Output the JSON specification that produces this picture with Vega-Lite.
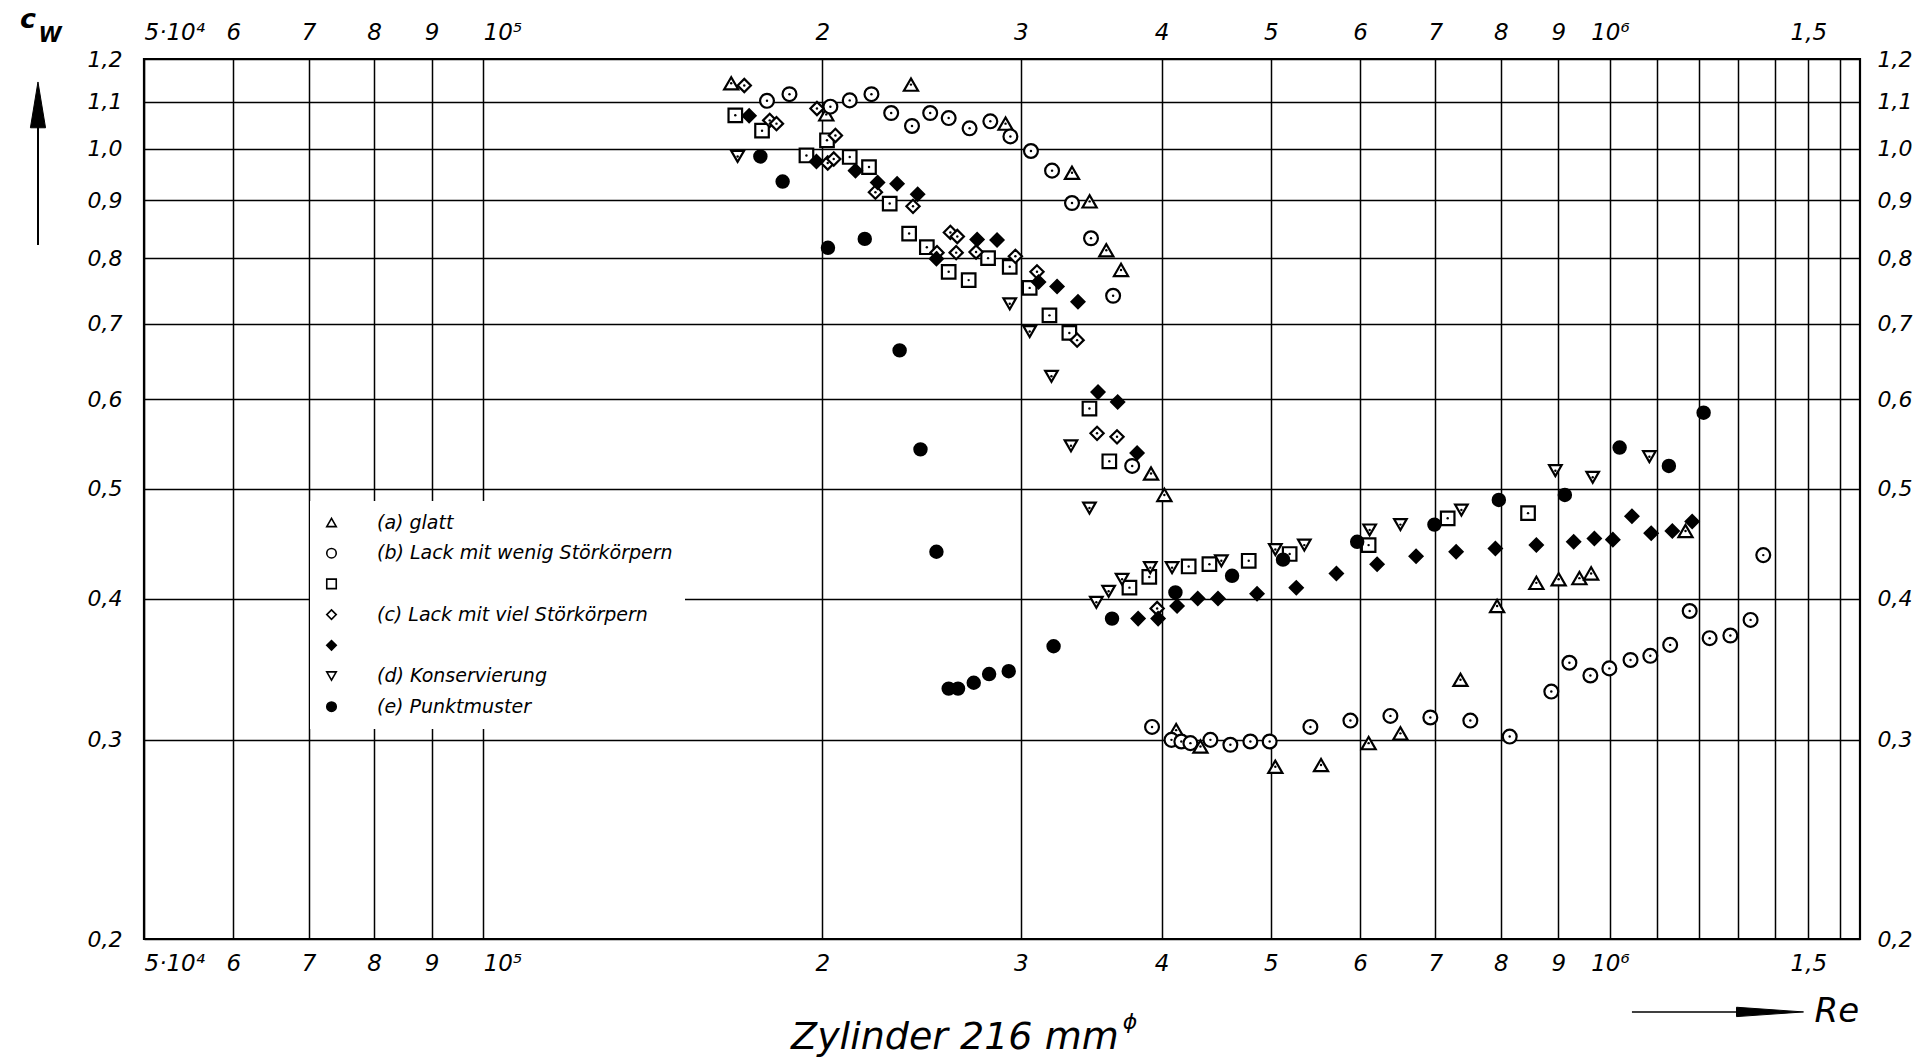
{
  "$schema": "https://vega.github.io/schema/vega-lite/v6.json",
  "width": 1716,
  "height": 880,
  "autosize": "none",
  "padding": {"left": 144, "top": 59, "right": 57, "bottom": 118},
  "background": "white",
  "config": {
    "view": {"stroke": "black", "strokeWidth": 2.2},
    "font": "DejaVu Sans",
    "legend": {
      "orient": "none", "legendX": 166, "legendY": 442, "direction": "vertical", "title": null,
      "fillColor": "white", "padding": 12, "rowPadding": 10.7,
      "labelFont": "DejaVu Sans", "labelFontStyle": "italic", "labelFontSize": 19, "labelColor": "black",
      "labelLimit": 600, "labelOffset": 36,
      "symbolSize": 90, "symbolStrokeWidth": 1.6, "symbolOpacity": 1
    }
  },
  "data": {
    "values": [
      {"s": "a", "re": 166000, "cw": 1.142}, {"s": "a", "re": 201600, "cw": 1.072}, {"s": "a", "re": 239700, "cw": 1.139},
      {"s": "a", "re": 290800, "cw": 1.052}, {"s": "a", "re": 333100, "cw": 0.952}, {"s": "a", "re": 345300, "cw": 0.898},
      {"s": "a", "re": 357300, "cw": 0.813}, {"s": "a", "re": 368200, "cw": 0.781}, {"s": "a", "re": 391500, "cw": 0.516},
      {"s": "a", "re": 402300, "cw": 0.494}, {"s": "a", "re": 412100, "cw": 0.306}, {"s": "a", "re": 433100, "cw": 0.296},
      {"s": "a", "re": 504700, "cw": 0.284}, {"s": "a", "re": 554100, "cw": 0.285}, {"s": "a", "re": 610700, "cw": 0.298},
      {"s": "a", "re": 651700, "cw": 0.304}, {"s": "a", "re": 736800, "cw": 0.339}, {"s": "a", "re": 794100, "cw": 0.394},
      {"s": "a", "re": 860400, "cw": 0.413}, {"s": "a", "re": 900500, "cw": 0.416}, {"s": "a", "re": 939500, "cw": 0.417},
      {"s": "a", "re": 962300, "cw": 0.421}, {"s": "a", "re": 1167000, "cw": 0.459},

      {"s": "b", "re": 178600, "cw": 1.102}, {"s": "b", "re": 187000, "cw": 1.117}, {"s": "b", "re": 203300, "cw": 1.089},
      {"s": "b", "re": 211500, "cw": 1.103}, {"s": "b", "re": 221100, "cw": 1.117}, {"s": "b", "re": 230200, "cw": 1.075},
      {"s": "b", "re": 240200, "cw": 1.047}, {"s": "b", "re": 249300, "cw": 1.075}, {"s": "b", "re": 258900, "cw": 1.064},
      {"s": "b", "re": 270200, "cw": 1.042}, {"s": "b", "re": 281900, "cw": 1.057}, {"s": "b", "re": 293700, "cw": 1.025},
      {"s": "b", "re": 306300, "cw": 0.995}, {"s": "b", "re": 319800, "cw": 0.956}, {"s": "b", "re": 333100, "cw": 0.895},
      {"s": "b", "re": 346300, "cw": 0.833}, {"s": "b", "re": 362300, "cw": 0.741}, {"s": "b", "re": 376700, "cw": 0.524},
      {"s": "b", "re": 392300, "cw": 0.308}, {"s": "b", "re": 408200, "cw": 0.300}, {"s": "b", "re": 416500, "cw": 0.299},
      {"s": "b", "re": 424300, "cw": 0.298}, {"s": "b", "re": 442000, "cw": 0.300}, {"s": "b", "re": 460400, "cw": 0.297},
      {"s": "b", "re": 479600, "cw": 0.299}, {"s": "b", "re": 498900, "cw": 0.299}, {"s": "b", "re": 542200, "cw": 0.308},
      {"s": "b", "re": 588400, "cw": 0.312}, {"s": "b", "re": 638500, "cw": 0.315}, {"s": "b", "re": 692800, "cw": 0.314},
      {"s": "b", "re": 751800, "cw": 0.312}, {"s": "b", "re": 814800, "cw": 0.302}, {"s": "b", "re": 887100, "cw": 0.331},
      {"s": "b", "re": 920500, "cw": 0.351}, {"s": "b", "re": 960800, "cw": 0.342}, {"s": "b", "re": 998800, "cw": 0.347},
      {"s": "b", "re": 1043000, "cw": 0.353}, {"s": "b", "re": 1086000, "cw": 0.356}, {"s": "b", "re": 1131000, "cw": 0.364},
      {"s": "b", "re": 1177000, "cw": 0.390}, {"s": "b", "re": 1226000, "cw": 0.369}, {"s": "b", "re": 1279000, "cw": 0.371},
      {"s": "b", "re": 1333000, "cw": 0.383}, {"s": "b", "re": 1368000, "cw": 0.437},

      {"s": "c1", "re": 167400, "cw": 1.070}, {"s": "c1", "re": 176800, "cw": 1.037}, {"s": "c1", "re": 193600, "cw": 0.986},
      {"s": "c1", "re": 201900, "cw": 1.017}, {"s": "c1", "re": 211500, "cw": 0.983}, {"s": "c1", "re": 220000, "cw": 0.963},
      {"s": "c1", "re": 229500, "cw": 0.894}, {"s": "c1", "re": 238800, "cw": 0.841}, {"s": "c1", "re": 247600, "cw": 0.818},
      {"s": "c1", "re": 258900, "cw": 0.778}, {"s": "c1", "re": 269700, "cw": 0.765}, {"s": "c1", "re": 280600, "cw": 0.800},
      {"s": "c1", "re": 293300, "cw": 0.786}, {"s": "c1", "re": 305500, "cw": 0.753}, {"s": "c1", "re": 318100, "cw": 0.712},
      {"s": "c1", "re": 331300, "cw": 0.687}, {"s": "c1", "re": 345200, "cw": 0.589}, {"s": "c1", "re": 359500, "cw": 0.529},
      {"s": "c1", "re": 390100, "cw": 0.418}, {"s": "c1", "re": 374600, "cw": 0.409}, {"s": "c1", "re": 422800, "cw": 0.427},
      {"s": "c1", "re": 441100, "cw": 0.429}, {"s": "c1", "re": 478000, "cw": 0.432}, {"s": "c1", "re": 519700, "cw": 0.438},
      {"s": "c1", "re": 610700, "cw": 0.446}, {"s": "c1", "re": 717800, "cw": 0.471}, {"s": "c1", "re": 845900, "cw": 0.476},

      {"s": "c2", "re": 170500, "cw": 1.137}, {"s": "c2", "re": 179600, "cw": 1.059}, {"s": "c2", "re": 182100, "cw": 1.052},
      {"s": "c2", "re": 197800, "cw": 1.085}, {"s": "c2", "re": 205400, "cw": 1.027}, {"s": "c2", "re": 202200, "cw": 0.971},
      {"s": "c2", "re": 204700, "cw": 0.979}, {"s": "c2", "re": 222900, "cw": 0.915}, {"s": "c2", "re": 240700, "cw": 0.889},
      {"s": "c2", "re": 259800, "cw": 0.843}, {"s": "c2", "re": 263500, "cw": 0.836}, {"s": "c2", "re": 252800, "cw": 0.809},
      {"s": "c2", "re": 262900, "cw": 0.809}, {"s": "c2", "re": 273800, "cw": 0.810}, {"s": "c2", "re": 296700, "cw": 0.803},
      {"s": "c2", "re": 310100, "cw": 0.778}, {"s": "c2", "re": 336600, "cw": 0.677}, {"s": "c2", "re": 350600, "cw": 0.560},
      {"s": "c2", "re": 365200, "cw": 0.556}, {"s": "c2", "re": 396400, "cw": 0.392},

      {"s": "c3", "re": 172200, "cw": 1.069}, {"s": "c3", "re": 197600, "cw": 0.974}, {"s": "c3", "re": 214000, "cw": 0.956},
      {"s": "c3", "re": 223900, "cw": 0.933}, {"s": "c3", "re": 233000, "cw": 0.931}, {"s": "c3", "re": 243000, "cw": 0.911},
      {"s": "c3", "re": 252500, "cw": 0.799}, {"s": "c3", "re": 274400, "cw": 0.831}, {"s": "c3", "re": 285800, "cw": 0.830},
      {"s": "c3", "re": 311100, "cw": 0.762}, {"s": "c3", "re": 323100, "cw": 0.755}, {"s": "c3", "re": 337200, "cw": 0.732},
      {"s": "c3", "re": 351300, "cw": 0.609}, {"s": "c3", "re": 365700, "cw": 0.597}, {"s": "c3", "re": 380500, "cw": 0.538},
      {"s": "c3", "re": 381300, "cw": 0.384}, {"s": "c3", "re": 397200, "cw": 0.384}, {"s": "c3", "re": 412900, "cw": 0.394},
      {"s": "c3", "re": 430700, "cw": 0.400}, {"s": "c3", "re": 448900, "cw": 0.400}, {"s": "c3", "re": 486200, "cw": 0.404},
      {"s": "c3", "re": 526800, "cw": 0.409}, {"s": "c3", "re": 571800, "cw": 0.421}, {"s": "c3", "re": 621400, "cw": 0.429},
      {"s": "c3", "re": 672900, "cw": 0.436}, {"s": "c3", "re": 730300, "cw": 0.440}, {"s": "c3", "re": 791300, "cw": 0.443},
      {"s": "c3", "re": 860400, "cw": 0.446}, {"s": "c3", "re": 928600, "cw": 0.449}, {"s": "c3", "re": 968700, "cw": 0.452},
      {"s": "c3", "re": 1006000, "cw": 0.451}, {"s": "c3", "re": 1046000, "cw": 0.473}, {"s": "c3", "re": 1088000, "cw": 0.457},
      {"s": "c3", "re": 1136000, "cw": 0.459}, {"s": "c3", "re": 1183000, "cw": 0.468},

      {"s": "d", "re": 168200, "cw": 0.984}, {"s": "d", "re": 293300, "cw": 0.729}, {"s": "d", "re": 305500, "cw": 0.689},
      {"s": "d", "re": 319400, "cw": 0.629}, {"s": "d", "re": 332400, "cw": 0.546}, {"s": "d", "re": 345200, "cw": 0.481},
      {"s": "d", "re": 350100, "cw": 0.397}, {"s": "d", "re": 359000, "cw": 0.406}, {"s": "d", "re": 369000, "cw": 0.416},
      {"s": "d", "re": 390900, "cw": 0.426}, {"s": "d", "re": 408700, "cw": 0.426}, {"s": "d", "re": 452000, "cw": 0.432},
      {"s": "d", "re": 504700, "cw": 0.442}, {"s": "d", "re": 535500, "cw": 0.446}, {"s": "d", "re": 612000, "cw": 0.460},
      {"s": "d", "re": 651700, "cw": 0.465}, {"s": "d", "re": 738200, "cw": 0.479}, {"s": "d", "re": 894500, "cw": 0.519},
      {"s": "d", "re": 965400, "cw": 0.512}, {"s": "d", "re": 1084000, "cw": 0.534},

      {"s": "e", "re": 176200, "cw": 0.984}, {"s": "e", "re": 184400, "cw": 0.935}, {"s": "e", "re": 202300, "cw": 0.817},
      {"s": "e", "re": 218100, "cw": 0.832}, {"s": "e", "re": 234200, "cw": 0.663}, {"s": "e", "re": 244400, "cw": 0.542},
      {"s": "e", "re": 252500, "cw": 0.440}, {"s": "e", "re": 258900, "cw": 0.333}, {"s": "e", "re": 263900, "cw": 0.333},
      {"s": "e", "re": 272500, "cw": 0.337}, {"s": "e", "re": 281200, "cw": 0.343}, {"s": "e", "re": 292700, "cw": 0.345},
      {"s": "e", "re": 320800, "cw": 0.363}, {"s": "e", "re": 361500, "cw": 0.384}, {"s": "e", "re": 411500, "cw": 0.405},
      {"s": "e", "re": 462000, "cw": 0.419}, {"s": "e", "re": 512700, "cw": 0.433}, {"s": "e", "re": 596600, "cw": 0.449},
      {"s": "e", "re": 698600, "cw": 0.465}, {"s": "e", "re": 796900, "cw": 0.489}, {"s": "e", "re": 912000, "cw": 0.494},
      {"s": "e", "re": 1020000, "cw": 0.544}, {"s": "e", "re": 1128000, "cw": 0.524}, {"s": "e", "re": 1211000, "cw": 0.584}
    ]
  },
  "layer": [
    {
      "mark": {"type": "point", "filled": true, "strokeWidth": 2.2, "opacity": 1},
      "encoding": {
        "x": {
          "field": "re", "type": "quantitative",
          "scale": {"type": "log", "domain": [50000, 1667000], "nice": false},
          "axis": {
            "orient": "bottom", "title": null,
            "values": [50000, 60000, 70000, 80000, 90000, 100000, 200000, 300000, 400000, 500000, 600000, 700000, 800000, 900000, 1000000, 1100000, 1200000, 1300000, 1400000, 1500000, 1600000],
            "grid": true, "gridColor": "black", "gridWidth": 1.5, "gridOpacity": 1,
            "ticks": false, "domain": false,
            "labelExpr": "datum.value == 50000 ? '5·10⁴' : datum.value == 100000 ? '10⁵' : datum.value == 1000000 ? '10⁶' : datum.value == 1500000 ? '1,5' : datum.value > 1000000 ? '' : datum.value > 100000 ? format(round(datum.value / 100000), 'd') : format(round(datum.value / 10000), 'd')",
            "labelAlign": {"condition": {"test": "datum.value == 50000 || datum.value == 100000", "value": "left"}, "value": "center"},
            "labelFont": "DejaVu Sans", "labelFontStyle": "italic", "labelFontSize": 23, "labelColor": "black",
            "labelPadding": 13, "labelOverlap": false, "labelBound": false, "labelFlush": false
          }
        },
        "y": {
          "field": "cw", "type": "quantitative",
          "scale": {"type": "log", "domain": [0.2, 1.2], "nice": false},
          "axis": {
            "orient": "left", "title": null,
            "values": [0.2, 0.3, 0.4, 0.5, 0.6, 0.7, 0.8, 0.9, 1.0, 1.1, 1.2],
            "grid": true, "gridColor": "black", "gridWidth": 1.5, "gridOpacity": 1,
            "ticks": false, "domain": false,
            "labelExpr": "replace(format(datum.value, '.1f'), '.', ',')",
            "labelFont": "DejaVu Sans", "labelFontStyle": "italic", "labelFontSize": 22, "labelColor": "black",
            "labelPadding": 22, "labelOverlap": false, "labelBound": false, "labelFlush": false
          }
        },
        "shape": {
          "field": "s", "type": "nominal",
          "scale": {"domain": ["a", "b", "c1", "c2", "c3", "d", "e"], "range": ["triangle-up", "circle", "square", "diamond", "diamond", "triangle-down", "circle"]},
          "legend": {
            "labelExpr": "datum.value == 'a' ? '(a) glatt' : datum.value == 'b' ? '(b) Lack mit wenig Störkörpern' : datum.value == 'c2' ? '(c) Lack mit viel Störkörpern' : datum.value == 'd' ? '(d) Konservierung' : datum.value == 'e' ? '(e) Punktmuster' : ''"
          }
        },
        "fill": {
          "field": "s", "type": "nominal",
          "scale": {"domain": ["a", "b", "c1", "c2", "c3", "d", "e"], "range": ["white", "white", "white", "white", "black", "white", "black"]},
          "legend": {
            "labelExpr": "datum.value == 'a' ? '(a) glatt' : datum.value == 'b' ? '(b) Lack mit wenig Störkörpern' : datum.value == 'c2' ? '(c) Lack mit viel Störkörpern' : datum.value == 'd' ? '(d) Konservierung' : datum.value == 'e' ? '(e) Punktmuster' : ''"
          }
        },
        "stroke": {
          "field": "s", "type": "nominal",
          "scale": {"domain": ["a", "b", "c1", "c2", "c3", "d", "e"], "range": ["black", "black", "black", "black", "black", "black", "black"]},
          "legend": {
            "labelExpr": "datum.value == 'a' ? '(a) glatt' : datum.value == 'b' ? '(b) Lack mit wenig Störkörpern' : datum.value == 'c2' ? '(c) Lack mit viel Störkörpern' : datum.value == 'd' ? '(d) Konservierung' : datum.value == 'e' ? '(e) Punktmuster' : ''"
          }
        },
        "size": {
          "field": "s", "type": "nominal",
          "scale": {"domain": ["e", "d", "c3", "c2", "c1", "b", "a"], "range": [150, 200, 210, 210, 140, 150, 200]},
          "legend": null
        }
      }
    },
    {
      "transform": [{"filter": "indexof(['a', 'b', 'c1', 'c2', 'd'], datum.s) >= 0"}],
      "mark": {"type": "point", "filled": true, "fill": "black", "strokeWidth": 0, "size": 6, "opacity": 1},
      "encoding": {
        "x": {
          "field": "re", "type": "quantitative",
          "scale": {"type": "log", "domain": [50000, 1667000], "nice": false},
          "axis": {
            "orient": "top", "title": null, "grid": false,
            "values": [50000, 60000, 70000, 80000, 90000, 100000, 200000, 300000, 400000, 500000, 600000, 700000, 800000, 900000, 1000000, 1500000],
            "ticks": false, "domain": false,
            "labelExpr": "datum.value == 50000 ? '5·10⁴' : datum.value == 100000 ? '10⁵' : datum.value == 1000000 ? '10⁶' : datum.value == 1500000 ? '1,5' : datum.value > 100000 ? format(round(datum.value / 100000), 'd') : format(round(datum.value / 10000), 'd')",
            "labelAlign": {"condition": {"test": "datum.value == 50000 || datum.value == 100000", "value": "left"}, "value": "center"},
            "labelFont": "DejaVu Sans", "labelFontStyle": "italic", "labelFontSize": 23, "labelColor": "black",
            "labelPadding": 15, "labelOverlap": false, "labelBound": false, "labelFlush": false
          }
        },
        "y": {
          "field": "cw", "type": "quantitative",
          "scale": {"type": "log", "domain": [0.2, 1.2], "nice": false},
          "axis": {
            "orient": "right", "title": null, "grid": false,
            "values": [0.2, 0.3, 0.4, 0.5, 0.6, 0.7, 0.8, 0.9, 1.0, 1.1, 1.2],
            "ticks": false, "domain": false,
            "labelExpr": "replace(format(datum.value, '.1f'), '.', ',')",
            "labelFont": "DejaVu Sans", "labelFontStyle": "italic", "labelFontSize": 22, "labelColor": "black",
            "labelPadding": 17, "labelOverlap": false, "labelBound": false, "labelFlush": false
          }
        }
      }
    },
    {
      "data": {"values": [{}]},
      "mark": {"type": "point", "shape": "M-0.28,-1Q0,-1 0,-0.85L0,-0.12Q0,0 0.28,0Q0,0 0,0.12L0,0.85Q0,1 -0.28,1", "filled": false, "stroke": "black", "strokeWidth": 1.8, "size": 6900, "opacity": 1},
      "encoding": {
        "x": {"datum": 75700, "type": "quantitative", "scale": {"type": "log", "domain": [50000, 1667000], "nice": false}, "axis": null},
        "y": {"datum": 0.390, "type": "quantitative", "scale": {"type": "log", "domain": [0.2, 1.2], "nice": false}, "axis": null}
      }
    },
    {
      "data": {"values": [{}]},
      "mark": {"type": "text", "text": "c", "font": "DejaVu Sans", "fontStyle": "italic", "fontWeight": "bold", "fontSize": 27, "align": "center", "baseline": "middle", "color": "black"},
      "encoding": {
        "x": {"datum": 39440, "type": "quantitative", "scale": {"type": "log", "domain": [50000, 1667000], "nice": false}, "axis": null},
        "y": {"datum": 1.299, "type": "quantitative", "scale": {"type": "log", "domain": [0.2, 1.2], "nice": false}, "axis": null}
      }
    },
    {
      "data": {"values": [{}]},
      "mark": {"type": "text", "text": "W", "font": "DejaVu Sans", "fontStyle": "italic", "fontWeight": "bold", "fontSize": 21, "align": "center", "baseline": "middle", "color": "black"},
      "encoding": {
        "x": {"datum": 41260, "type": "quantitative", "scale": {"type": "log", "domain": [50000, 1667000], "nice": false}, "axis": null},
        "y": {"datum": 1.257, "type": "quantitative", "scale": {"type": "log", "domain": [0.2, 1.2], "nice": false}, "axis": null}
      }
    },
    {
      "data": {"values": [{}]},
      "mark": {"type": "rule", "strokeWidth": 2, "color": "black"},
      "encoding": {
        "x": {"datum": 40260, "type": "quantitative", "scale": {"type": "log", "domain": [50000, 1667000], "nice": false}, "axis": null},
        "y": {"datum": 0.8217, "type": "quantitative", "scale": {"type": "log", "domain": [0.2, 1.2], "nice": false}, "axis": null},
        "y2": {"datum": 1.06}
      }
    },
    {
      "data": {"values": [{}]},
      "mark": {"type": "point", "shape": "M0,-1L0.33,1L-0.33,1Z", "filled": true, "fill": "black", "stroke": "black", "strokeWidth": 1, "size": 2100, "opacity": 1},
      "encoding": {
        "x": {"datum": 40260, "type": "quantitative", "scale": {"type": "log", "domain": [50000, 1667000], "nice": false}, "axis": null},
        "y": {"datum": 1.093, "type": "quantitative", "scale": {"type": "log", "domain": [0.2, 1.2], "nice": false}, "axis": null}
      }
    },
    {
      "data": {"values": [{}]},
      "mark": {"type": "text", "text": "Zylinder 216 mm", "font": "DejaVu Sans", "fontStyle": "italic", "fontSize": 38, "align": "center", "baseline": "alphabetic", "color": "black"},
      "encoding": {
        "x": {"datum": 262200, "type": "quantitative", "scale": {"type": "log", "domain": [50000, 1667000], "nice": false}, "axis": null},
        "y": {"datum": 0.1599, "type": "quantitative", "scale": {"type": "log", "domain": [0.2, 1.2], "nice": false}, "axis": null}
      }
    },
    {
      "data": {"values": [{}]},
      "mark": {"type": "text", "text": "ϕ", "font": "DejaVu Sans", "fontStyle": "italic", "fontSize": 22, "align": "center", "baseline": "middle", "color": "black"},
      "encoding": {
        "x": {"datum": 375100, "type": "quantitative", "scale": {"type": "log", "domain": [50000, 1667000], "nice": false}, "axis": null},
        "y": {"datum": 0.1689, "type": "quantitative", "scale": {"type": "log", "domain": [0.2, 1.2], "nice": false}, "axis": null}
      }
    },
    {
      "data": {"values": [{}]},
      "mark": {"type": "rule", "strokeWidth": 1.5, "color": "black"},
      "encoding": {
        "x": {"datum": 1046000, "type": "quantitative", "scale": {"type": "log", "domain": [50000, 1667000], "nice": false}, "axis": null},
        "x2": {"datum": 1387000},
        "y": {"datum": 0.1724, "type": "quantitative", "scale": {"type": "log", "domain": [0.2, 1.2], "nice": false}, "axis": null}
      }
    },
    {
      "data": {"values": [{}]},
      "mark": {"type": "point", "shape": "M1,0L-1,-0.14L-1,0.14Z", "filled": true, "fill": "black", "stroke": "black", "strokeWidth": 1, "size": 4489, "opacity": 1},
      "encoding": {
        "x": {"datum": 1387000, "type": "quantitative", "scale": {"type": "log", "domain": [50000, 1667000], "nice": false}, "axis": null},
        "y": {"datum": 0.1724, "type": "quantitative", "scale": {"type": "log", "domain": [0.2, 1.2], "nice": false}, "axis": null}
      }
    },
    {
      "data": {"values": [{}]},
      "mark": {"type": "text", "text": "Re", "font": "DejaVu Sans", "fontStyle": "italic", "fontSize": 34, "align": "center", "baseline": "middle", "color": "black"},
      "encoding": {
        "x": {"datum": 1590000, "type": "quantitative", "scale": {"type": "log", "domain": [50000, 1667000], "nice": false}, "axis": null},
        "y": {"datum": 0.1724, "type": "quantitative", "scale": {"type": "log", "domain": [0.2, 1.2], "nice": false}, "axis": null}
      }
    }
  ],
  "resolve": {"axis": {"x": "independent", "y": "independent"}}
}
